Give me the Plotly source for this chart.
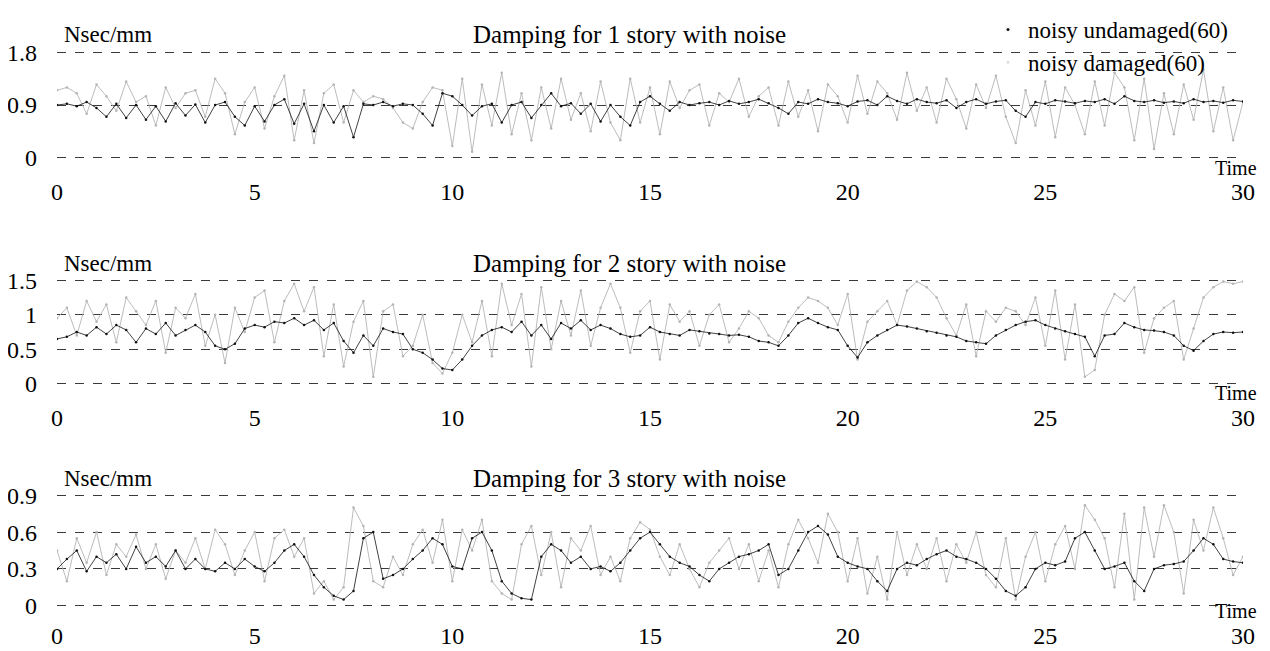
import plotly.graph_objects as go

TIME = [i * 0.25 for i in range(121)]

story1_undamaged = [
    0.90, 0.92, 0.88, 0.95, 0.85, 0.70, 0.92, 0.68, 0.90,
    0.65, 0.88, 0.62, 0.93, 0.72, 0.91, 0.60, 0.90,
    0.95, 0.70, 0.55, 0.88, 0.62, 0.90, 1.00, 0.58,
    0.92, 0.45, 0.90, 0.60, 0.88, 0.35, 0.92, 0.90,
    0.95, 0.88, 0.92, 0.90, 0.75, 0.55, 1.10, 1.05,
    0.90, 0.72, 0.88, 0.92, 0.60, 0.90, 0.95, 0.68,
    0.90, 1.10, 0.88, 0.93, 0.75, 0.92, 0.62, 0.90,
    0.70, 0.55, 0.95, 1.05, 0.92, 0.80, 0.95, 0.90,
    0.93, 0.95, 0.90, 0.97, 0.92, 0.95, 1.00, 0.93,
    0.85, 0.75, 0.95, 0.92, 1.00, 0.95, 0.93, 0.88,
    0.96, 0.98, 0.90, 1.05, 0.97, 0.92, 1.00, 0.95,
    0.93, 0.98, 0.85, 0.95, 1.00, 0.92, 0.96, 0.98,
    0.80, 0.70, 0.95, 0.92, 0.98, 0.96, 0.93, 0.97,
    0.95, 1.00, 0.92, 1.05, 0.97, 0.95, 0.98, 0.94,
    0.96, 0.93, 1.00, 0.95, 0.97, 0.94, 0.98, 0.96,
]
story1_damaged = [
    1.15, 1.20, 1.10, 0.75, 1.25, 1.05, 0.80, 1.30, 0.95,
    1.05, 0.55, 1.20, 0.85, 1.10, 1.15, 0.70, 1.35,
    1.10, 0.40, 0.95, 1.20, 0.50, 1.05, 1.40, 0.30,
    1.15, 0.25, 1.10, 1.25, 0.60, 1.15, 0.95, 1.05,
    1.00, 0.85, 0.60, 0.50, 0.95, 1.20, 1.15, 0.20,
    1.35, 0.10, 1.25, 0.55, 1.45, 0.40, 1.10, 0.30,
    1.20, 0.50, 1.35, 0.65, 1.10, 0.45, 1.30, 0.60,
    0.30, 1.35, 0.60, 1.20, 0.40, 1.30, 0.85, 1.15,
    1.25, 0.55, 1.10, 0.95, 1.35, 0.70, 1.05, 1.20,
    0.55, 1.30, 0.70, 1.15, 0.45, 1.25, 1.05, 0.60,
    1.40, 0.75, 1.30, 1.10, 0.65, 1.45, 0.80, 1.20,
    0.60, 1.35, 1.00, 0.50, 1.25, 0.85, 1.40, 0.70,
    0.25, 1.15, 0.55, 1.30, 0.35, 1.20, 0.90, 0.40,
    1.30, 0.55, 1.45, 1.20, 0.30, 1.35, 0.15, 1.10,
    0.40, 1.25, 0.65, 1.50, 0.45, 1.20, 0.30, 0.95,
]

story2_undamaged = [
    0.65, 0.68, 0.75, 0.70, 0.82, 0.72, 0.85, 0.78, 0.60,
    0.80, 0.72, 0.88, 0.70, 0.78, 0.85, 0.75, 0.55,
    0.50, 0.58, 0.80, 0.85, 0.82, 0.90, 0.88, 0.95,
    0.85, 0.92, 0.78, 0.88, 0.62, 0.45, 0.70, 0.55,
    0.80, 0.75, 0.72, 0.50, 0.45, 0.35, 0.22, 0.20,
    0.35, 0.55, 0.70, 0.78, 0.82, 0.75, 0.90, 0.70,
    0.85, 0.65, 0.88, 0.80, 0.92, 0.78, 0.85, 0.80,
    0.72, 0.68, 0.70, 0.82, 0.75, 0.72, 0.70, 0.78,
    0.76, 0.73, 0.72, 0.70, 0.71, 0.68, 0.62, 0.60,
    0.55, 0.70, 0.88, 0.95, 0.88, 0.82, 0.78, 0.55,
    0.38, 0.60, 0.70, 0.78, 0.85, 0.83, 0.80, 0.76,
    0.74, 0.70, 0.68, 0.62, 0.60, 0.58, 0.70, 0.78,
    0.85, 0.90, 0.92, 0.85, 0.80, 0.76, 0.72, 0.68,
    0.40, 0.70, 0.72, 0.88, 0.82, 0.78, 0.77, 0.75,
    0.70, 0.55, 0.48, 0.62, 0.72, 0.75, 0.74, 0.75,
]
story2_damaged = [
    0.95, 1.10, 0.70, 1.20, 0.90, 1.15, 0.60, 1.25, 1.05,
    0.85, 1.20, 0.45, 1.10, 0.95, 1.30, 0.55, 1.00,
    0.30, 1.10, 0.75, 1.25, 1.35, 0.60, 1.20, 1.45,
    1.05, 1.40, 0.40, 1.15, 0.25, 0.90, 1.20, 0.10,
    1.05, 1.15, 0.40, 0.55, 1.00, 0.30, 0.15, 0.45,
    1.00, 0.60, 1.20, 0.40, 1.45, 0.85, 1.30, 0.25,
    1.40, 0.50, 1.20, 0.70, 1.35, 0.55, 1.10, 1.45,
    1.10, 0.45, 1.05, 1.20, 0.35, 1.15, 0.90, 1.05,
    0.55, 1.00, 1.15, 0.60, 0.80, 1.05, 0.95, 0.70,
    0.60, 0.90, 1.10, 1.25, 1.20, 1.10, 0.85, 1.30,
    0.35, 0.90, 1.05, 1.20, 0.85, 1.35, 1.48, 1.40,
    1.25, 0.95, 0.70, 1.15, 0.40, 1.05, 0.90, 1.10,
    1.05, 0.85, 1.25, 0.55, 1.35, 0.35, 1.15, 0.10,
    0.20, 1.00, 1.30, 1.20, 1.40, 0.45, 0.95, 1.10,
    1.20, 0.35, 0.80, 1.25, 1.40, 1.48, 1.45, 1.48,
]

story3_undamaged = [
    0.30, 0.38, 0.45, 0.28, 0.40, 0.35, 0.42, 0.30, 0.48,
    0.35, 0.40, 0.32, 0.45, 0.30, 0.38, 0.30, 0.28,
    0.35, 0.30, 0.38, 0.32, 0.28, 0.35, 0.45, 0.50,
    0.40, 0.25, 0.15, 0.08, 0.05, 0.12, 0.55, 0.60,
    0.22, 0.25, 0.30, 0.38, 0.45, 0.55, 0.50, 0.32,
    0.30, 0.55, 0.60, 0.45, 0.20, 0.10, 0.06, 0.05,
    0.40, 0.50, 0.45, 0.35, 0.40, 0.30, 0.32, 0.28,
    0.35, 0.45, 0.55, 0.60, 0.50, 0.40, 0.35, 0.32,
    0.25, 0.20, 0.30, 0.35, 0.40, 0.42, 0.45, 0.50,
    0.25, 0.30, 0.45, 0.60, 0.65, 0.58, 0.40, 0.35,
    0.32, 0.30, 0.20, 0.12, 0.30, 0.35, 0.33, 0.38,
    0.42, 0.45, 0.40, 0.38, 0.35, 0.30, 0.22, 0.12,
    0.08, 0.15, 0.30, 0.35, 0.33, 0.36, 0.55, 0.60,
    0.45, 0.30, 0.32, 0.35, 0.20, 0.12, 0.30, 0.33,
    0.34, 0.36, 0.45, 0.55, 0.50, 0.38, 0.36, 0.35,
]
story3_damaged = [
    0.45, 0.20, 0.55, 0.35, 0.60, 0.25, 0.50, 0.40, 0.58,
    0.30, 0.50, 0.22, 0.45, 0.35, 0.55, 0.30, 0.62,
    0.50, 0.25, 0.45, 0.60, 0.20, 0.55, 0.62, 0.40,
    0.55, 0.10, 0.20, 0.05, 0.15, 0.80, 0.65, 0.20,
    0.15, 0.40, 0.25, 0.50, 0.62, 0.35, 0.70, 0.20,
    0.62, 0.45, 0.70, 0.20, 0.10, 0.05, 0.50, 0.65,
    0.25, 0.60, 0.15, 0.55, 0.45, 0.65, 0.25, 0.40,
    0.20, 0.55, 0.68, 0.62, 0.40, 0.25, 0.50, 0.30,
    0.15, 0.35, 0.45, 0.55, 0.30, 0.50, 0.20, 0.45,
    0.15, 0.50, 0.70, 0.55, 0.35, 0.75, 0.60, 0.20,
    0.55, 0.10, 0.40, 0.05, 0.60, 0.25, 0.50, 0.30,
    0.55, 0.20, 0.50, 0.35, 0.60, 0.25, 0.15, 0.55,
    0.05, 0.40, 0.60, 0.20, 0.50, 0.65, 0.30, 0.82,
    0.70, 0.55, 0.15, 0.75, 0.05, 0.80, 0.40, 0.82,
    0.60, 0.10, 0.70, 0.45, 0.80, 0.55, 0.25, 0.40,
]

TITLES = ["Damping for 1 story with noise",
          "Damping for 2 story with noise",
          "Damping for 3 story with noise"]
Y_TICKS = [[0, 0.9, 1.8], [0, 0.5, 1, 1.5], [0, 0.3, 0.6, 0.9]]
Y_TICKTEXT = [["0", "0.9", "1.8"], ["0", "0.5", "1", "1.5"], ["0", "0.3", "0.6", "0.9"]]
X_TICKS = [0, 5, 10, 15, 20, 25, 30]
LEGEND_NAMES = ["noisy undamaged(60)", "noisy damaged(60)"]
UNIT_LABEL = "Nsec/mm"
X_LABEL = "Time"

# ---------------- styling / layout ----------------
# the page body has an 8px margin, so the figure is sized to fill the rest
OFF = 8
W, H = 1270 - OFF, 651 - OFF
ML, MR = 49, 27
FONT = "Liberation Serif, Times New Roman, serif"
DARK = "#111111"
LIGHT = "#b4b4b4"

# panel extents (top, bottom) in screen pixels of the reference
PANEL_PX = [(52, 158), (280, 384), (495, 606)]
X_STANDOFF = [16, 16, 12]
TIME_DY = [10, 9, 5]


def py(p):
    return 1 - (p - OFF) / H


def px(p):
    return (p - OFF - ML) / (W - ML - MR)


series = [
    (story1_undamaged, story1_damaged),
    (story2_undamaged, story2_damaged),
    (story3_undamaged, story3_damaged),
]

fig = go.Figure()
layout = dict(
    width=W, height=H,
    margin=dict(l=ML, r=MR, t=0, b=0, autoexpand=False),
    paper_bgcolor="white", plot_bgcolor="white",
    font=dict(family=FONT, size=23, color="black"),
    showlegend=True,
    legend=dict(x=px(988), y=1.0, xanchor="left", yanchor="top",
                bgcolor="rgba(0,0,0,0)", font=dict(size=23, family=FONT),
                itemwidth=30, tracegroupgap=0),
)
annotations = []

for i, (und, dam) in enumerate(series):
    k = "" if i == 0 else str(i + 1)
    top, bot = PANEL_PX[i]
    ymax = Y_TICKS[i][-1]
    pad = ymax * 0.012
    fig.add_trace(go.Scatter(
        x=TIME, y=dam, mode="lines+markers", xaxis="x" + k, yaxis="y" + k,
        line=dict(color=LIGHT, width=0.9), marker=dict(color=LIGHT, size=2.5),
        showlegend=False, hoverinfo="skip"))
    fig.add_trace(go.Scatter(
        x=TIME, y=und, mode="lines+markers", xaxis="x" + k, yaxis="y" + k,
        line=dict(color=DARK, width=0.8), marker=dict(color=DARK, size=2.5),
        showlegend=False, hoverinfo="skip"))

    layout["xaxis" + k] = dict(
        domain=[0, 1], anchor="y" + k, range=[0, 30],
        tickvals=X_TICKS, ticktext=[str(v) for v in X_TICKS],
        showgrid=False, zeroline=False, showline=False,
        ticks="", ticklabelstandoff=X_STANDOFF[i],
        tickfont=dict(size=24, family=FONT, color="black"),
        fixedrange=True)
    layout["yaxis" + k] = dict(
        domain=[py(bot + 1), py(top - 1)], anchor="x" + k,
        range=[-pad, ymax + pad],
        tickvals=Y_TICKS[i], ticktext=Y_TICKTEXT[i],
        showgrid=True, gridcolor="#3a3a3a", gridwidth=1, griddash="dash",
        zeroline=False, showline=False, ticks="", ticklabelstandoff=19,
        tickfont=dict(size=24, family=FONT, color="black"),
        fixedrange=True)

    annotations.append(dict(text=UNIT_LABEL, xref="paper", yref="paper",
                            x=px(62), y=py(top - 17), xanchor="left", yanchor="middle",
                            showarrow=False, font=dict(size=23, family=FONT)))
    annotations.append(dict(text=TITLES[i], xref="paper", yref="paper",
                            x=px(629), y=py(top - 17), xanchor="center", yanchor="middle",
                            showarrow=False, font=dict(size=25, family=FONT)))
    annotations.append(dict(text=X_LABEL, xref="paper", yref="paper",
                            x=px(1259), y=py(bot + TIME_DY[i]), xanchor="right",
                            yanchor="middle", showarrow=False,
                            font=dict(size=20, family=FONT)))

# legend entries
fig.add_trace(go.Scatter(x=[None], y=[None], mode="markers", name=LEGEND_NAMES[0],
                         marker=dict(color=DARK, size=3)))
fig.add_trace(go.Scatter(x=[None], y=[None], mode="markers", name=LEGEND_NAMES[1],
                         marker=dict(color="#e0e0e0", size=3)))

layout["annotations"] = annotations
fig.update_layout(**layout)
fig.write_html("out.html")
